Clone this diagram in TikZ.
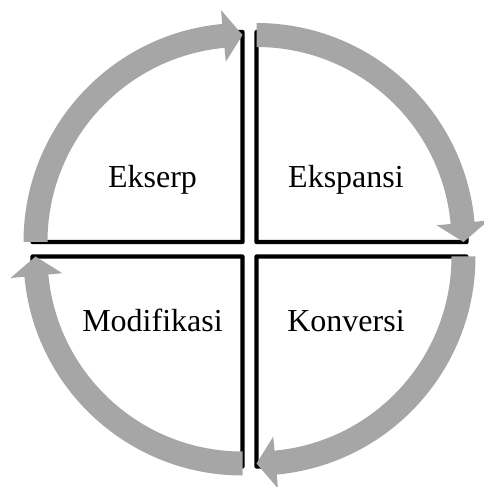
\documentclass[tikz,border=0pt]{standalone}
\usepackage{fontspec}
\setmainfont{Liberation Serif}
\usetikzlibrary{calc}
\definecolor{bandgray}{RGB}{166,166,166}
\tikzset{
  sector/.style={draw=black, line width=4.3pt, line join=round, fill=white},
  band/.style={fill=bandgray, draw=none},
  label/.style={font=\fontsize{32}{38}\selectfont, anchor=base, inner sep=0pt}
}
\begin{document}
\begin{tikzpicture}[x=1pt,y=1pt]
\useasboundingbox (0,0) rectangle (483,487);
% quadrants
\foreach \cx/\cy/\s in {242.5/245/180, 256.5/245/90, 256.5/230.5/0, 242.5/230.5/-90}{
  \pgfmathsetmacro{\e}{\s-90}
  \draw[sector] (\cx,\cy) -- ++(\s:210) arc[start angle=\s, end angle=\e, radius=210] -- cycle;
}
% curved arrows
\foreach \cx/\cy/\s in {242.5/245/180, 256.5/245/90, 256.5/230.5/0, 242.5/230.5/-90}{
  \pgfmathsetmacro{\e}{\s-90}
  \pgfmathsetmacro{\b}{\e+5.3}
  \coordinate (c) at (\cx,\cy);
  \fill[band] ($(c)+(\s:219)$) arc[start angle=\s, end angle=\b, radius=219]
     -- ($(c)+(\b:233)$) -- ($(c)+(\e:207)$) -- ($(c)+(\b:181)$)
     -- ($(c)+(\b:195)$) arc[start angle=\b, end angle=\s, radius=195] -- cycle;
}
\node[label] (ekserp) at (152.5,299) {Ekserp};
\node[label] (ekspansi) at (346,299) {Ekspansi};
\node[label] (modifikasi) at (152.5,155) {Modifikasi};
\node[label] (konversi) at (346,155) {Konversi};
\end{tikzpicture}
\end{document}
